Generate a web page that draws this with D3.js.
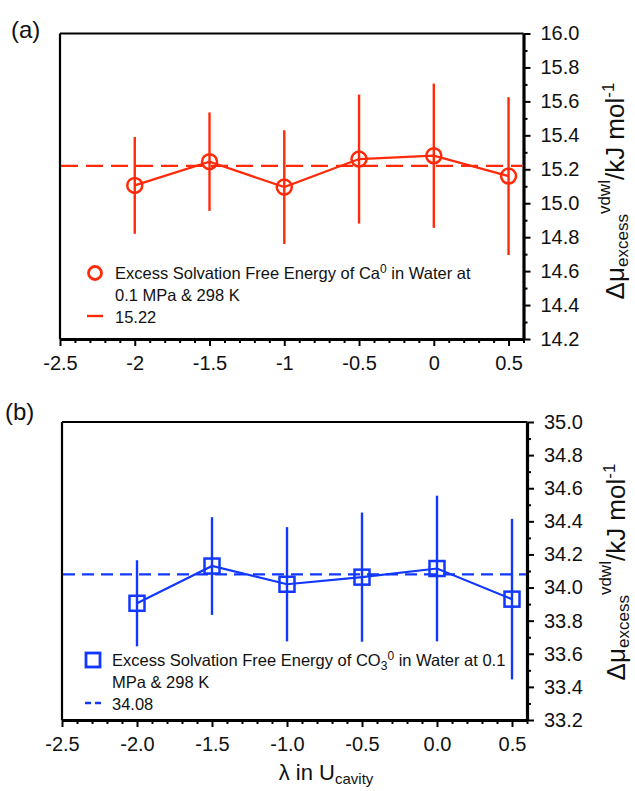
<!DOCTYPE html>
<html>
<head>
<meta charset="utf-8">
<script src="https://cdn.jsdelivr.net/npm/d3@7/dist/d3.min.js"></script>
<style>
  html, body { margin: 0; padding: 0; background: #fff; }
  svg text { font-family: "Liberation Sans", Arial, sans-serif; fill: #111; }
</style>
</head>
<body>
<svg id="chart" width="635" height="791"></svg>
<script>
// λ values of the cavity scaling parameter
const lambda = [-2.0, -1.5, -1.0, -0.5, 0.0, 0.5];

// Ca0 excess solvation free energy (kJ/mol) and its uncertainty
const caMean = [15.105, 15.245, 15.095, 15.26, 15.28, 15.16];
const caErr  = [0.285, 0.29, 0.335, 0.38, 0.425, 0.465];
const caAvg  = 15.22;

// CO3 0 excess solvation free energy (kJ/mol) and its uncertainty
const co3Mean = [33.905, 34.13, 34.02, 34.063, 34.115, 33.93];
const co3Err  = [0.26, 0.295, 0.345, 0.39, 0.44, 0.485];
const co3Avg  = 34.08;

// Axis tick labels
const xTicks = [-2.5, -2.0, -1.5, -1.0, -0.5, 0.0, 0.5];
const xTickLabelsA = ["-2.5", "-2", "-1.5", "-1", "-0.5", "0", "0.5"];
const xTickLabelsB = ["-2.5", "-2.0", "-1.5", "-1.0", "-0.5", "0.0", "0.5"];
const yTicksA = [14.2, 14.4, 14.6, 14.8, 15.0, 15.2, 15.4, 15.6, 15.8, 16.0];
const yTicksB = [33.2, 33.4, 33.6, 33.8, 34.0, 34.2, 34.4, 34.6, 34.8, 35.0];

const svg = d3.select("#chart");

function range(a, b, step) {
  const out = [];
  for (let v = a; v <= b + 1e-9; v += step) out.push(+v.toFixed(3));
  return out;
}

function drawPanel(opt) {
  const g = svg.append("g");
  const x = d3.scaleLinear().domain([-2.5, 0.6]).range([opt.left, opt.right]);
  const y = d3.scaleLinear().domain(opt.yDomain).range([opt.bottom, opt.top]);

  // panel letter
  g.append("text").attr("x", opt.letterX).attr("y", opt.letterY)
    .attr("font-size", 24).text(opt.letter);

  // frame: top and left edges
  g.append("line").attr("x1", opt.left).attr("x2", opt.right)
    .attr("y1", opt.top).attr("y2", opt.top)
    .attr("stroke", "#000").attr("stroke-width", 2.2);
  g.append("line").attr("x1", opt.left).attr("x2", opt.left)
    .attr("y1", opt.top).attr("y2", opt.bottom)
    .attr("stroke", "#000").attr("stroke-width", 2.2);

  // bottom axis: minor then major ticks
  const xMinor = range(-2.5, 0.6, 0.1).filter(v => Math.abs(v * 2 - Math.round(v * 2)) > 1e-6);
  g.append("g").attr("transform", `translate(0,${opt.bottom})`)
    .call(d3.axisBottom(x).tickValues(xMinor).tickSize(4).tickFormat(""))
    .call(a => a.select(".domain").remove())
    .call(a => a.selectAll("line").attr("stroke", "#000").attr("stroke-width", 2));
  const xAxis = g.append("g").attr("transform", `translate(0,${opt.bottom})`)
    .call(d3.axisBottom(x).tickValues(xTicks).tickSize(7).tickSizeOuter(0)
      .tickPadding(10).tickFormat((d, i) => opt.xLabels[i]));
  xAxis.select(".domain").attr("stroke", "#000").attr("stroke-width", 3);
  xAxis.selectAll("line").attr("stroke", "#000").attr("stroke-width", 2);
  xAxis.selectAll("text").attr("font-size", 20).style("font-family", "'Liberation Sans', Arial, sans-serif").attr("fill", "#111");

  // right axis: minor then major ticks
  const yMinor = range(opt.yDomain[0], opt.yDomain[1], 0.1)
    .filter(v => Math.abs(v * 5 - Math.round(v * 5)) > 1e-6);
  g.append("g").attr("transform", `translate(${opt.right},0)`)
    .call(d3.axisRight(y).tickValues(yMinor).tickSize(4).tickFormat(""))
    .call(a => a.select(".domain").remove())
    .call(a => a.selectAll("line").attr("stroke", "#000").attr("stroke-width", 2));
  const yAxis = g.append("g").attr("transform", `translate(${opt.right},0)`)
    .call(d3.axisRight(y).tickValues(opt.yTicks).tickSize(7).tickSizeOuter(0)
      .tickPadding(10).tickFormat(d3.format(".1f")));
  yAxis.select(".domain").attr("stroke", "#000").attr("stroke-width", 3.2);
  yAxis.selectAll("line").attr("stroke", "#000").attr("stroke-width", 2);
  yAxis.selectAll("text").attr("font-size", 20).style("font-family", "'Liberation Sans', Arial, sans-serif").attr("fill", "#111");

  // y title, rotated
  const yt = g.append("text")
    .attr("transform", `translate(${opt.titleX},${opt.titleY}) rotate(-90)`)
    .attr("text-anchor", "middle").attr("font-size", 26);
  yt.append("tspan").text("Δμ");
  yt.append("tspan").attr("font-size", 17).attr("dy", 4).text("excess");
  yt.append("tspan").attr("font-size", 17).attr("dy", -18).text("vdwl");
  yt.append("tspan").attr("dy", 14).text("/kJ mol");
  yt.append("tspan").attr("font-size", 17).attr("dy", -10).text("-1");

  const col = opt.color;

  // average line
  g.append("line").attr("x1", opt.left + 1).attr("x2", opt.right - 1)
    .attr("y1", y(opt.avg)).attr("y2", y(opt.avg))
    .attr("stroke", col).attr("stroke-width", 2.2)
    .attr("stroke-dasharray", opt.dash);

  // error bars
  g.selectAll(".err").data(lambda).enter().append("line")
    .attr("x1", d => x(d)).attr("x2", d => x(d))
    .attr("y1", (d, i) => y(opt.mean[i] + opt.err[i]))
    .attr("y2", (d, i) => y(opt.mean[i] - opt.err[i]))
    .attr("stroke", col).attr("stroke-width", 2.4);

  // connecting line
  g.append("path")
    .datum(lambda.map((d, i) => [d, opt.mean[i]]))
    .attr("d", d3.line().x(d => x(d[0])).y(d => y(d[1])))
    .attr("fill", "none").attr("stroke", col).attr("stroke-width", 2.2);

  // markers
  if (opt.marker === "circle") {
    g.selectAll(".mk").data(lambda).enter().append("circle")
      .attr("cx", d => x(d)).attr("cy", (d, i) => y(opt.mean[i])).attr("r", 7.5)
      .attr("fill", "none").attr("stroke", col).attr("stroke-width", 2.5);
  } else {
    g.selectAll(".mk").data(lambda).enter().append("rect")
      .attr("x", d => x(d) - 7.5).attr("y", (d, i) => y(opt.mean[i]) - 7.5)
      .attr("width", 15).attr("height", 15)
      .attr("fill", "none").attr("stroke", col).attr("stroke-width", 2.5);
  }

  // legend
  const lg = g.append("g");
  if (opt.marker === "circle") {
    lg.append("circle").attr("cx", opt.legX).attr("cy", opt.legY).attr("r", 6.5)
      .attr("fill", "none").attr("stroke", col).attr("stroke-width", 2.8);
  } else {
    lg.append("rect").attr("x", opt.legX - 7).attr("y", opt.legY - 7)
      .attr("width", 14).attr("height", 14)
      .attr("fill", "none").attr("stroke", col).attr("stroke-width", 2.8);
  }
  const fs = 16.5;
  const t1 = lg.append("text").attr("x", opt.legTextX).attr("y", opt.legY + 6).attr("font-size", fs);
  opt.legLine1(t1);
  lg.append("text").attr("x", opt.legTextX).attr("y", opt.legY + 28).attr("font-size", fs)
    .text(opt.legLine2);
  lg.append("line").attr("x1", opt.legX - 8).attr("x2", opt.legX + 8)
    .attr("y1", opt.legY + 43).attr("y2", opt.legY + 43)
    .attr("stroke", col).attr("stroke-width", 2.4).attr("stroke-dasharray", opt.legDash);
  lg.append("text").attr("x", opt.legTextX).attr("y", opt.legY + 50).attr("font-size", fs)
    .text(d3.format(".2f")(opt.avg));
}

drawPanel({
  letter: "(a)", letterX: 11, letterY: 38,
  left: 60, right: 523.5, top: 33.5, bottom: 339,
  yDomain: [14.2, 16.0], yTicks: yTicksA, xLabels: xTickLabelsA,
  titleX: 624, titleY: 191,
  color: "#ff2a0a", mean: caMean, err: caErr, avg: caAvg,
  dash: "17,8", marker: "circle",
  legX: 95, legY: 273, legTextX: 115, legDash: null,
  legLine1: t => {
    t.append("tspan").text("Excess Solvation Free Energy of Ca");
    t.append("tspan").attr("font-size", 12).attr("dy", -6).text("0");
    t.append("tspan").attr("dy", 6).text(" in Water at");
  },
  legLine2: "0.1 MPa & 298 K"
});

drawPanel({
  letter: "(b)", letterX: 5, letterY: 420,
  left: 62, right: 527, top: 422, bottom: 720,
  yDomain: [33.2, 35.0], yTicks: yTicksB, xLabels: xTickLabelsB,
  titleX: 625, titleY: 572,
  color: "#1238ff", mean: co3Mean, err: co3Err, avg: co3Avg,
  dash: "12,7", marker: "square",
  legX: 93, legY: 660, legTextX: 112, legDash: "6,4",
  legLine1: t => {
    t.append("tspan").text("Excess Solvation Free Energy of CO");
    t.append("tspan").attr("font-size", 12).attr("dy", 4).text("3");
    t.append("tspan").attr("font-size", 12).attr("dy", -10).text("0");
    t.append("tspan").attr("dy", 6).text(" in Water at 0.1");
  },
  legLine2: "MPa & 298 K"
});

// x title
const xt = svg.append("text").attr("x", 326).attr("y", 780)
  .attr("text-anchor", "middle").attr("font-size", 22);
xt.append("tspan").text("λ in U");
xt.append("tspan").attr("font-size", 15).attr("dy", 4).text("cavity");
</script>
</body>
</html>
